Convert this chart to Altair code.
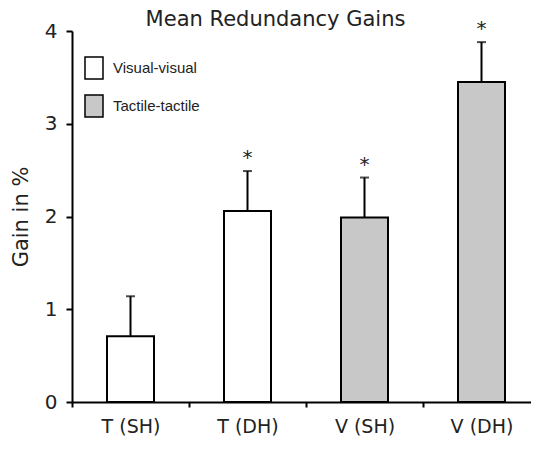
import altair as alt
import pandas as pd

categories = ["T (SH)", "T (DH)", "V (SH)", "V (DH)"]
gains = [0.71, 2.06, 1.99, 3.45]
err_top = [1.14, 2.49, 2.42, 3.88]
series = ["Visual-visual", "Visual-visual", "Tactile-tactile", "Tactile-tactile"]
stars = ["", "*", "*", "*"]
legend_labels = ["Visual-visual", "Tactile-tactile"]
fills = ["white", "#c8c8c8"]

df = pd.DataFrame({"cat": categories, "gain": gains, "err": err_top,
                   "series": series, "star": stars})

x = alt.X("cat:N", sort=categories, title=None,
          scale=alt.Scale(paddingInner=0, paddingOuter=0, range=[0, 468]),
          axis=alt.Axis(labelAngle=0, tickBand="extent", labelFontSize=19,
                        labelFont="DejaVu Sans", labelColor="#222", labelPadding=10,
                        domainColor="black", domainWidth=2, tickColor="black",
                        tickWidth=2, tickSize=5))
y_scale = alt.Scale(domain=[0, 4], nice=False)

bars = alt.Chart(df).mark_bar(size=47, stroke="black", strokeWidth=2).encode(
    x=x,
    y=alt.Y("gain:Q", scale=y_scale, title="Gain in %",
            axis=alt.Axis(values=[0, 1, 2, 3, 4], format="d", grid=False,
                          labelFontSize=20, labelFont="DejaVu Sans", labelColor="#222",
                          labelPadding=9, titleFontSize=21, titleFont="DejaVu Sans",
                          titleFontWeight="normal", titleColor="#222", titlePadding=13,
                          domainColor="black", domainWidth=2, tickColor="black",
                          tickWidth=2, tickSize=6)),
    color=alt.Color("series:N", sort=legend_labels,
                    scale=alt.Scale(domain=legend_labels, range=fills),
                    legend=alt.Legend(title=None, orient="none", legendX=10, legendY=25,
                                      symbolType="M-0.818,-1L0.818,-1L0.818,1L-0.818,1Z",
                                      symbolSize=484, symbolStrokeColor="black",
                                      symbolStrokeWidth=1.5, symbolFillColor="white",
                                      labelFont="Liberation Sans", labelFontSize=15,
                                      labelColor="#222", rowPadding=10, padding=0,
                                      labelOffset=7)),
)

rules = alt.Chart(df).mark_rule(color="black", strokeWidth=2).encode(
    x=alt.X("cat:N", sort=categories), y="gain:Q", y2="err:Q")
caps = alt.Chart(df).mark_tick(color="black", thickness=2, size=9).encode(
    x=alt.X("cat:N", sort=categories), y="err:Q")
star_text = alt.Chart(df).mark_text(fontSize=20, font="DejaVu Sans", dy=-13,
                                    color="#222").encode(
    x=alt.X("cat:N", sort=categories), y="err:Q", text="star:N")

chart = alt.layer(bars, rules, caps, star_text).properties(
    width=459, height=371,
    autosize=alt.AutoSizeParams(type="none"),
    padding={"left": 64, "top": 23, "right": 0, "bottom": 39},
    title=alt.TitleParams("Mean Redundancy Gains", fontSize=21, font="DejaVu Sans",
                          fontWeight="normal", color="#222", anchor="middle",
                          offset=-11, dx=-26),
).configure_view(stroke=None)

chart.save("out.html", embed_options={"renderer": "svg", "actions": False})
